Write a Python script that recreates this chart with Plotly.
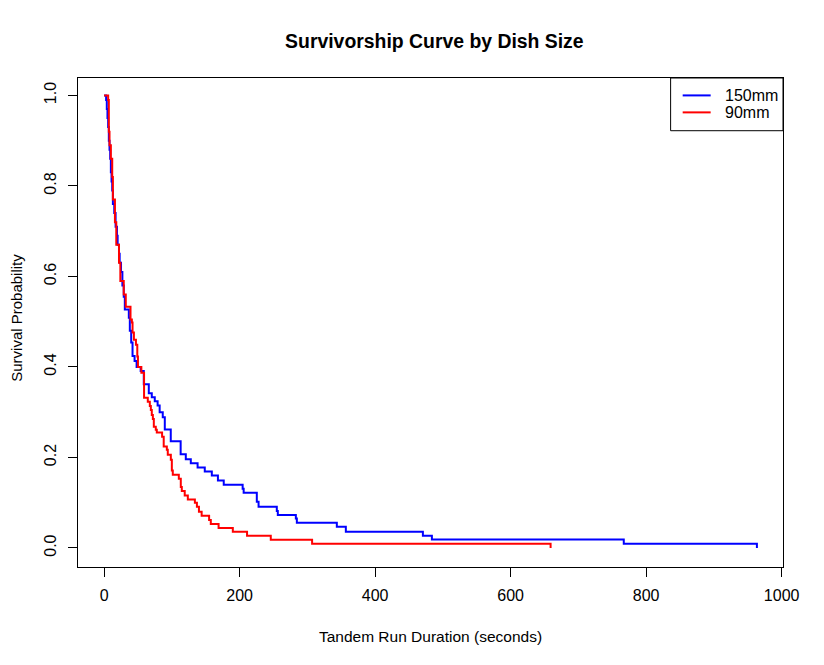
import plotly.graph_objects as go

# Kaplan-Meier steps (time in seconds, survival probability)
time_150 = [0, 3, 4, 5, 6, 7, 8, 9, 10, 11, 12, 13, 15, 17, 19, 20, 22, 23, 25, 27, 29,
            30.6, 36.5, 38, 40, 42, 45, 48, 54, 58.6, 66, 70.4, 74.8, 79, 82, 86.6, 89.6,
            98.4, 113, 120.6, 128, 138, 148.6, 159, 168, 176.6, 204.5, 206, 225.4, 228,
            254.9, 256.4, 283, 284.5, 343.5, 356.8, 470.5, 483.8, 767, 963.5]
surv_150 = [1.0, 0.99, 0.97, 0.95, 0.93, 0.90, 0.88, 0.86, 0.83, 0.81, 0.79, 0.76, 0.74,
            0.71, 0.69, 0.67, 0.65, 0.63, 0.61, 0.58, 0.555, 0.527, 0.509, 0.48, 0.454,
            0.424, 0.413, 0.40, 0.391, 0.362, 0.342, 0.333, 0.324, 0.315, 0.30, 0.289,
            0.262, 0.236, 0.207, 0.196, 0.187, 0.178, 0.169, 0.160, 0.149, 0.140, 0.131,
            0.122, 0.102, 0.091, 0.082, 0.073, 0.065, 0.056, 0.047, 0.036, 0.027, 0.0185,
            0.0093, 0.0]

time_90 = [0, 6, 7, 8, 10, 12, 13, 16, 18, 22, 24, 29, 32, 39, 41, 42, 44, 47, 49, 50,
           55, 59, 64.5, 67.5, 69, 70.4, 72, 73.4, 76.3, 77.8, 85.6, 88, 92.6, 94, 98.5,
           100, 101.4, 110.3, 113.2, 114.7, 119, 123.6, 134, 137, 140, 144, 155, 157.5,
           169, 190, 211, 246, 307, 659]
surv_90 = [1.0, 0.99, 0.92, 0.89, 0.86, 0.82, 0.77, 0.72, 0.67, 0.63, 0.59, 0.56, 0.533,
           0.505, 0.498, 0.476, 0.46, 0.449, 0.423, 0.40, 0.387, 0.332, 0.323, 0.314, 0.305,
           0.294, 0.285, 0.268, 0.261, 0.255, 0.246, 0.224, 0.217, 0.206, 0.195, 0.171,
           0.162, 0.153, 0.135, 0.126, 0.116, 0.107, 0.100, 0.091, 0.080, 0.071, 0.062,
           0.053, 0.044, 0.036, 0.027, 0.018, 0.0095, 0.0]

groups = ["150mm", "90mm"]
colors = ["#0000ff", "#ff0000"]

fig = go.Figure()
fig.add_trace(go.Scatter(x=time_150, y=surv_150, mode="lines", line_shape="hv",
                         line=dict(color=colors[0], width=2), name=groups[0]))
fig.add_trace(go.Scatter(x=time_90, y=surv_90, mode="lines", line_shape="hv",
                         line=dict(color=colors[1], width=2), name=groups[1]))

font = "Liberation Sans, Arial, sans-serif"

# the page body adds 8px around the div, so the figure is 8px smaller
fig.update_layout(
    width=816, height=657,
    paper_bgcolor="white", plot_bgcolor="white",
    margin=dict(l=70, r=41, t=70, b=98),
    showlegend=False,
    font=dict(family=font, size=16, color="black"),
    title=dict(text="<b>Survivorship Curve by Dish Size</b>", x=0.5225, xanchor="center",
               y=1 - 33 / 657, yanchor="middle", font=dict(size=19.4, color="black")),
)

fig.update_xaxes(range=[-38.5, 1002], tickvals=[0, 200, 400, 600, 800, 1000],
                 showgrid=False, zeroline=False, showline=True, mirror=True,
                 linecolor="black", linewidth=1, ticks="outside", ticklen=9,
                 tickcolor="black", ticklabelstandoff=5, automargin=False,
                 title=dict(text="Tandem Run Duration (seconds)", standoff=27,
                            font=dict(size=15.5)))
fig.update_yaxes(range=[-0.042, 1.0385], tickvals=[0, 0.2, 0.4, 0.6, 0.8, 1.0],
                 tickformat=".1f", tickangle=-90,
                 showgrid=False, zeroline=False, showline=True, mirror=True,
                 linecolor="black", linewidth=1, ticks="outside", ticklen=9,
                 tickcolor="black", ticklabelstandoff=6, automargin=False)

# y axis title placed by hand so it does not push the plot area
fig.add_annotation(xref="paper", yref="paper", x=-0.0884, y=0.509, text="Survival Probability",
                   textangle=-90, showarrow=False, xanchor="center", yanchor="middle",
                   font=dict(size=15, color="black"))

# legend box in the top right corner, drawn like R's legend()
fig.add_shape(type="rect", xref="paper", yref="paper", x0=0.8406, x1=1.0, y0=0.8922, y1=1.0,
              line=dict(color="black", width=1), fillcolor="white")
for i, (g, c) in enumerate(zip(groups, colors)):
    yy = 0.9644 - i * 0.0347
    fig.add_shape(type="line", xref="paper", yref="paper", x0=0.8577, x1=0.8974, y0=yy, y1=yy,
                  line=dict(color=c, width=2))
    fig.add_annotation(xref="paper", yref="paper", x=0.9148, y=yy, text=g, showarrow=False,
                       xanchor="left", yanchor="middle", font=dict(size=16, color="black"))

fig.write_html("out.html")
